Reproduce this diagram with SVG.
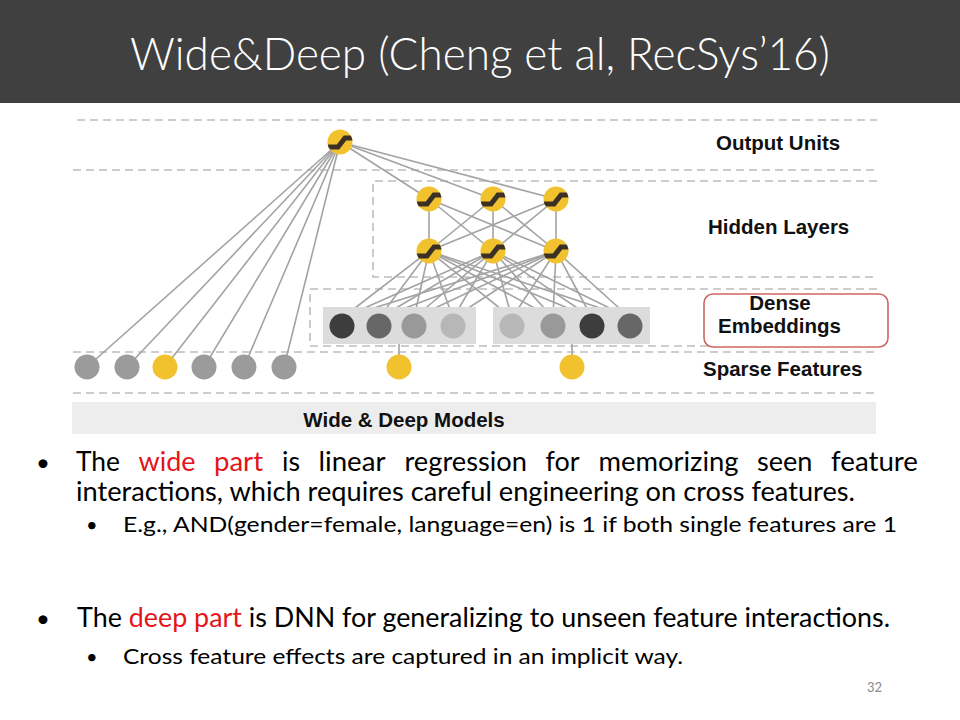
<svg xmlns="http://www.w3.org/2000/svg" xmlns:xlink="http://www.w3.org/1999/xlink" width="960" height="720" viewBox="0 0 960 720">
<style>
.dash{stroke:#bdbdbd;stroke-width:1.6;stroke-dasharray:8 5;fill:none}
.lbl{font-family:"Liberation Sans",Arial,sans-serif;font-weight:bold;font-size:20.5px;fill:#111}
.body{font-family:Lato,"Open Sans",sans-serif;fill:#000}
.w{font-size:26px}
.red{fill:#e3151b}
.conn line{stroke:#a3a3a3;stroke-width:1.6}
</style>
<defs>
<clipPath id="cc"><circle r="12.5"/></clipPath>
<g id="unit"><circle r="12.5" fill="#f2c12e"/><path d="M-14,5 L-2,5 L5,-4 L14,-4" stroke="#3b3024" stroke-width="5" fill="none" clip-path="url(#cc)"/></g>
</defs>
<rect x="0" y="0" width="960" height="720" fill="#fff"/>
<rect x="0" y="0" width="960" height="103" fill="#404040"/>
<text x="480" y="70" text-anchor="middle" font-family="Lato,'Open Sans',sans-serif" font-weight="300" font-size="46" fill="#fff" textLength="700" lengthAdjust="spacingAndGlyphs">Wide&amp;Deep (Cheng et al, RecSys’16)</text>

<g id="layers">
<line class="dash" x1="77" y1="120" x2="877" y2="120"/>
<line class="dash" x1="73" y1="170" x2="877" y2="170"/>
<path class="dash" d="M877,181 H373 V277 H877"/>
<path class="dash" d="M877,289 H310 V346 H877"/>
<line class="dash" x1="73" y1="352" x2="877" y2="352"/>
<line class="dash" x1="73" y1="393" x2="877" y2="393"/>
<rect x="72" y="402" width="804" height="32" fill="#ededed"/>
<text x="404" y="427" text-anchor="middle" class="lbl">Wide &amp; Deep Models</text>
</g>

<g class="conn" id="connectors">
<line x1="340" y1="142" x2="87" y2="367"/>
<line x1="340" y1="142" x2="127" y2="367"/>
<line x1="340" y1="142" x2="165" y2="367"/>
<line x1="340" y1="142" x2="204" y2="367"/>
<line x1="340" y1="142" x2="244" y2="367"/>
<line x1="340" y1="142" x2="284" y2="367"/>
<line x1="340" y1="142" x2="429" y2="199"/>
<line x1="340" y1="142" x2="493" y2="199"/>
<line x1="340" y1="142" x2="556" y2="199"/>
<line x1="429" y1="199" x2="429" y2="251"/>
<line x1="429" y1="199" x2="493" y2="251"/>
<line x1="429" y1="199" x2="556" y2="251"/>
<line x1="493" y1="199" x2="429" y2="251"/>
<line x1="493" y1="199" x2="493" y2="251"/>
<line x1="493" y1="199" x2="556" y2="251"/>
<line x1="556" y1="199" x2="429" y2="251"/>
<line x1="556" y1="199" x2="493" y2="251"/>
<line x1="556" y1="199" x2="556" y2="251"/>
<line x1="429" y1="251" x2="342" y2="318"/>
<line x1="429" y1="251" x2="379" y2="318"/>
<line x1="429" y1="251" x2="414" y2="318"/>
<line x1="429" y1="251" x2="453" y2="318"/>
<line x1="429" y1="251" x2="512" y2="318"/>
<line x1="429" y1="251" x2="553" y2="318"/>
<line x1="429" y1="251" x2="592" y2="318"/>
<line x1="429" y1="251" x2="630" y2="318"/>
<line x1="493" y1="251" x2="342" y2="318"/>
<line x1="493" y1="251" x2="379" y2="318"/>
<line x1="493" y1="251" x2="414" y2="318"/>
<line x1="493" y1="251" x2="453" y2="318"/>
<line x1="493" y1="251" x2="512" y2="318"/>
<line x1="493" y1="251" x2="553" y2="318"/>
<line x1="493" y1="251" x2="592" y2="318"/>
<line x1="493" y1="251" x2="630" y2="318"/>
<line x1="556" y1="251" x2="342" y2="318"/>
<line x1="556" y1="251" x2="379" y2="318"/>
<line x1="556" y1="251" x2="414" y2="318"/>
<line x1="556" y1="251" x2="453" y2="318"/>
<line x1="556" y1="251" x2="512" y2="318"/>
<line x1="556" y1="251" x2="553" y2="318"/>
<line x1="556" y1="251" x2="592" y2="318"/>
<line x1="556" y1="251" x2="630" y2="318"/>
<line x1="399" y1="344" x2="399" y2="360"/>
<line x1="572" y1="344" x2="572" y2="360"/>
</g>

<g id="output-unit"><use xlink:href="#unit" x="340" y="142"/></g>
<g id="hidden-1"><use xlink:href="#unit" x="429" y="199"/><use xlink:href="#unit" x="493" y="199"/><use xlink:href="#unit" x="556" y="199"/></g>
<g id="hidden-2"><use xlink:href="#unit" x="429" y="251"/><use xlink:href="#unit" x="493" y="251"/><use xlink:href="#unit" x="556" y="251"/></g>

<g id="embedding-1">
<rect x="323" y="307" width="153" height="37" fill="#dcdcdc"/>
<circle cx="342" cy="326" r="12.5" fill="#3d3d3d"/>
<circle cx="379" cy="326" r="12.5" fill="#676767"/>
<circle cx="414" cy="326" r="12.5" fill="#999"/>
<circle cx="453" cy="326" r="12.5" fill="#b7b7b7"/>
</g>
<g id="embedding-2">
<rect x="493" y="307" width="157" height="37" fill="#dcdcdc"/>
<circle cx="512" cy="326" r="12.5" fill="#b7b7b7"/>
<circle cx="553" cy="326" r="12.5" fill="#999"/>
<circle cx="592" cy="326" r="12.5" fill="#3d3d3d"/>
<circle cx="630" cy="326" r="12.5" fill="#676767"/>
</g>

<g id="sparse-features">
<circle cx="87" cy="367" r="12.5" fill="#9b9b9b"/>
<circle cx="127" cy="367" r="12.5" fill="#9b9b9b"/>
<circle cx="165" cy="367" r="12.5" fill="#f2c12e"/>
<circle cx="204" cy="367" r="12.5" fill="#9b9b9b"/>
<circle cx="244" cy="367" r="12.5" fill="#9b9b9b"/>
<circle cx="284" cy="367" r="12.5" fill="#9b9b9b"/>
<circle cx="399" cy="367" r="12.5" fill="#f2c12e"/>
<circle cx="572" cy="367" r="12.5" fill="#f2c12e"/>
</g>

<g id="labels">
<text class="lbl" x="716" y="150">Output Units</text>
<text class="lbl" x="708" y="234">Hidden Layers</text>
<rect x="704" y="294" width="184" height="53" rx="9" fill="#fff" stroke="#d0675f" stroke-width="1.6"/>
<text class="lbl" x="780" y="310" text-anchor="middle">Dense</text>
<text class="lbl" x="718" y="333">Embeddings</text>
<text class="lbl" x="703" y="376">Sparse Features</text>
</g>

<g id="bullets" class="body">
<text x="36" y="471" font-size="24">•</text>
<text class="w" x="76" y="471" textLength="44" lengthAdjust="spacingAndGlyphs">The</text>
<text class="w red" x="138.5" y="471" textLength="57" lengthAdjust="spacingAndGlyphs">wide</text>
<text class="w red" x="214" y="471" textLength="49" lengthAdjust="spacingAndGlyphs">part</text>
<text class="w" x="282" y="471" textLength="18" lengthAdjust="spacingAndGlyphs">is</text>
<text class="w" x="318.5" y="471" textLength="67" lengthAdjust="spacingAndGlyphs">linear</text>
<text class="w" x="404.5" y="471" textLength="122.5" lengthAdjust="spacingAndGlyphs">regression</text>
<text class="w" x="545.5" y="471" textLength="34" lengthAdjust="spacingAndGlyphs">for</text>
<text class="w" x="598.5" y="471" textLength="140" lengthAdjust="spacingAndGlyphs">memorizing</text>
<text class="w" x="757" y="471" textLength="55.5" lengthAdjust="spacingAndGlyphs">seen</text>
<text class="w" x="831" y="471" textLength="87" lengthAdjust="spacingAndGlyphs">feature</text>
<text class="w" x="76" y="501" textLength="779" lengthAdjust="spacingAndGlyphs">interactions, which requires careful engineering on cross features.</text>
<text x="86" y="532" font-size="20">•</text>
<text x="123" y="532" font-size="21.5" textLength="774" lengthAdjust="spacingAndGlyphs">E.g., AND(gender=female, language=en) is 1 if both single features are 1</text>
<text x="36" y="627" font-size="24">•</text>
<text class="w" x="77" y="627" textLength="813" lengthAdjust="spacingAndGlyphs">The <tspan class="red">deep part</tspan> is DNN for generalizing to unseen feature interactions.</text>
<text x="86" y="664" font-size="20">•</text>
<text x="123" y="664" font-size="21.5" textLength="560" lengthAdjust="spacingAndGlyphs">Cross feature effects are captured in an implicit way.</text>
<text x="867" y="692" font-size="13" fill="#888">32</text>
</g>
</svg>
